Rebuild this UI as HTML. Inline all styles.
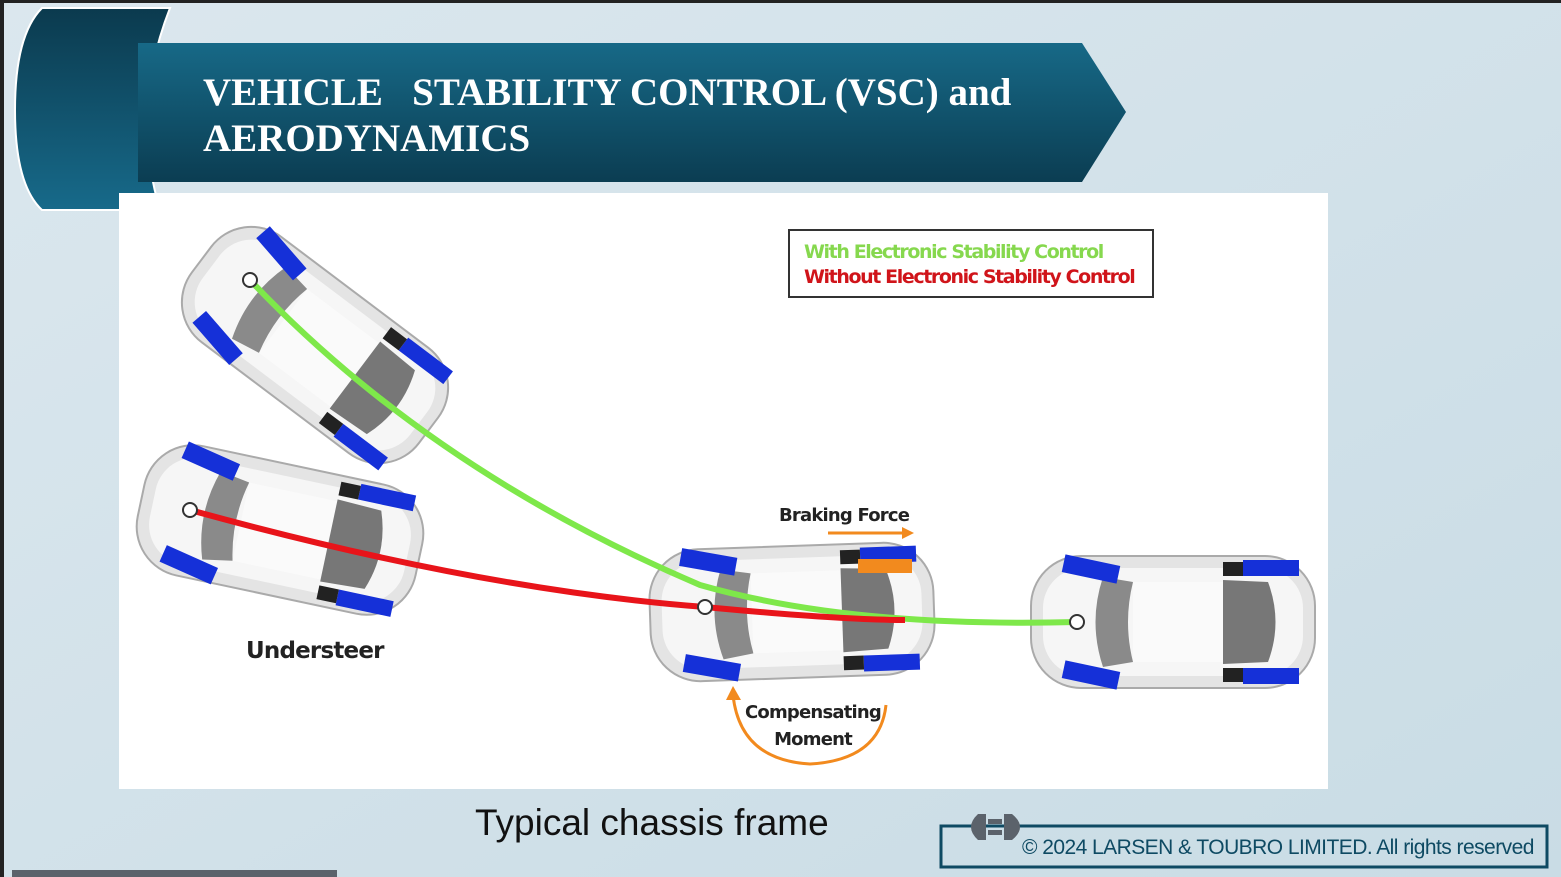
<!DOCTYPE html>
<html><head><meta charset="utf-8"><style>
body{margin:0;width:1561px;height:877px;overflow:hidden;background:#d3e2ea;position:relative;font-family:"Liberation Sans",sans-serif}
</style></head><body>
<svg width="1561" height="877" style="position:absolute;left:0;top:0">
<defs>
<linearGradient id="bg" x1="0" y1="0" x2="1" y2="1"><stop offset="0" stop-color="#dbe7ee"/><stop offset="1" stop-color="#c9dce5"/></linearGradient>
<linearGradient id="hd" x1="0" y1="0" x2="0" y2="1"><stop offset="0" stop-color="#176987"/><stop offset="1" stop-color="#0b3d52"/></linearGradient>
<linearGradient id="tab" x1="0" y1="0" x2="0" y2="1"><stop offset="0" stop-color="#0b3a4e"/><stop offset="1" stop-color="#176a8a"/></linearGradient>
<g id="car">
<rect x="-142" y="-66" width="284" height="132" rx="50" fill="#e4e4e4" stroke="#aaa" stroke-width="2"/>
<rect x="-130" y="-54" width="260" height="108" rx="40" fill="#f6f6f6"/>
<path d="M-70,-45 Q-85,0 -70,45 L-40,40 Q-50,0 -40,-40Z" fill="#8a8a8a"/>
<rect x="-40" y="-40" width="90" height="80" fill="#fafafa"/>
<path d="M50,-42 L95,-40 Q110,0 95,40 L50,42Z" fill="#777"/>
<rect x="-110" y="-62" width="56" height="18" fill="#1530d8" transform="rotate(12 -82 -53)"/>
<rect x="-110" y="44" width="56" height="18" fill="#1530d8" transform="rotate(12 -82 53)"/>
<rect x="70" y="-62" width="56" height="16" fill="#1530d8"/>
<rect x="70" y="46" width="56" height="16" fill="#1530d8"/>
<rect x="50" y="-60" width="20" height="14" fill="#222"/>
<rect x="50" y="46" width="20" height="14" fill="#222"/>
</g>
</defs>
<rect width="1561" height="877" fill="url(#bg)"/>
<rect x="0" y="0" width="4" height="877" fill="#222"/>
<rect x="0" y="0" width="1561" height="3" fill="#222"/>
<path d="M42,8 L170,8 Q130,110 160,210 L42,210 Q15,185 15,110 Q15,35 42,8Z" fill="url(#tab)" stroke="#fff" stroke-width="2"/>
<path d="M138,43 L1082,43 L1126,112 L1082,182 L138,182Z" fill="url(#hd)"/>
<rect x="119" y="193" width="1209" height="596" fill="#fff"/>
<use href="#car" transform="translate(1173,622) rotate(0)"/>
<use href="#car" transform="translate(792,612) rotate(-2)"/>
<rect x="858" y="559" width="54" height="14" fill="#f28a1e"/>
<use href="#car" transform="translate(280,530) rotate(12)"/>
<use href="#car" transform="translate(315,345) rotate(37)"/>
<path d="M250,280 Q430,470 700,585 Q850,628 1077,622" fill="none" stroke="#7ee84a" stroke-width="6"/>
<path d="M190,510 Q480,590 705,607 Q840,620 905,620" fill="none" stroke="#e8141a" stroke-width="6"/>
<circle cx="250" cy="280" r="7" fill="#fff" stroke="#333" stroke-width="2"/>
<circle cx="190" cy="510" r="7" fill="#fff" stroke="#333" stroke-width="2"/>
<circle cx="705" cy="607" r="7" fill="#fff" stroke="#333" stroke-width="2"/>
<circle cx="1077" cy="622" r="7" fill="#fff" stroke="#333" stroke-width="2"/>
<path d="M828,533 L905,533" stroke="#f28a1e" stroke-width="3"/>
<path d="M902,527 L914,533 L902,539Z" fill="#f28a1e"/>
<path d="M733,695 Q740,760 810,764 Q880,760 886,705" fill="none" stroke="#f28a1e" stroke-width="3"/>
<path d="M726,700 L733,686 L741,700Z" fill="#f28a1e"/>
<rect x="789" y="230" width="364" height="67" fill="#fff" stroke="#333" stroke-width="2"/>
<rect x="941" y="826" width="606" height="41" fill="none" stroke="#0e4a63" stroke-width="3"/>
<path d="M978,814 L986,814 L986,840 L978,840 Q964,827 978,814Z" fill="#5b626b"/>
<path d="M1004,814 L1012,814 Q1028,827 1012,840 L1004,840Z" fill="#5b626b"/>
<rect x="988" y="819" width="14" height="5" fill="#5b626b"/><rect x="988" y="830" width="14" height="5" fill="#5b626b"/>
<rect x="12" y="870" width="325" height="7" fill="#5b626b"/>
</svg>
<div style="position:absolute;left:203px;top:70px;color:#fff;font:bold 39px/46px 'Liberation Serif',serif;white-space:pre">VEHICLE   STABILITY CONTROL (VSC) and
AERODYNAMICS</div>
<div style="position:absolute;left:804px;top:241px;color:#86d84e;font:bold 19px 'DejaVu Sans',sans-serif;letter-spacing:-1.4px">With Electronic Stability Control</div>
<div style="position:absolute;left:804px;top:266px;color:#d0141a;font:bold 19px 'DejaVu Sans',sans-serif;letter-spacing:-1.4px">Without Electronic Stability Control</div>
<div style="position:absolute;left:779px;top:505px;color:#222;font:bold 18px 'DejaVu Sans',sans-serif;letter-spacing:-0.8px">Braking Force</div>
<div style="position:absolute;left:745px;top:699px;width:136px;text-align:center;color:#222;font:bold 18px/27px 'DejaVu Sans',sans-serif;letter-spacing:-0.8px">Compensating<br>Moment</div>
<div style="position:absolute;left:246px;top:638px;color:#222;font:bold 23px 'DejaVu Sans',sans-serif;letter-spacing:-0.8px">Understeer</div>
<div style="position:absolute;left:475px;top:802px;color:#111;font:37px 'Liberation Sans',sans-serif">Typical chassis frame</div>
<div style="position:absolute;left:1022px;top:836px;color:#0e4a63;font:21px 'Liberation Sans',sans-serif;letter-spacing:-0.55px">© 2024 LARSEN &amp; TOUBRO LIMITED. All rights reserved</div>
</body></html>
